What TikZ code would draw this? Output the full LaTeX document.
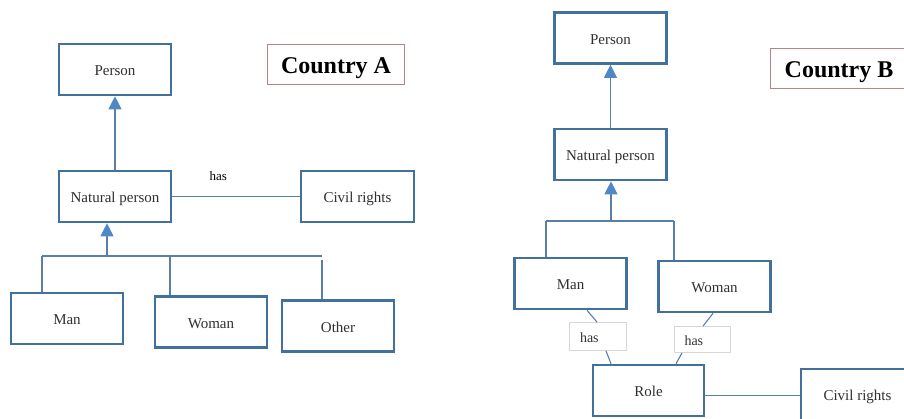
\documentclass[tikz,border=0pt]{standalone}
\usepackage{fontspec}
\setmainfont{Liberation Serif}
\usetikzlibrary{arrows.meta,calc}
\definecolor{boxblue}{HTML}{41719C}
\definecolor{linkblue}{HTML}{5B7EA6}
\definecolor{tipblue}{HTML}{4F87C7}
\definecolor{tagrey}{HTML}{D6D6D6}
\definecolor{titlerose}{HTML}{B48486}
\definecolor{textgrey}{HTML}{303030}
\begin{document}
\begin{tikzpicture}[x=1pt,y=-1pt,
  entity/.style={draw=boxblue, line width=2.6pt, fill=white, minimum width=112pt,
    minimum height=51pt, inner sep=0pt, text=textgrey, text height=12.5pt, text depth=0pt,
    font=\fontsize{15}{18}\selectfont},
  title/.style={draw=titlerose, line width=1pt, minimum width=137pt, minimum height=40pt,
    inner sep=0pt, text height=18pt, text depth=0pt, font=\fontsize{24}{28}\selectfont\bfseries},
  tag/.style={draw=tagrey, line width=0.8pt, fill=white, inner sep=0pt, text=textgrey,
    text width=36pt, align=left, text height=11pt, text depth=0pt,
    font=\fontsize{14}{16}\selectfont},
  link/.style={draw=linkblue, line width=1.1pt},
  isa/.style={link, -{Triangle[width=13pt,length=13pt,color=tipblue]}},
]
\useasboundingbox (0,0) rectangle (904,418);
\clip (0,0) rectangle (904,418);

% ---------- Country A ----------
\node[title] (ctyA) at (336,64.5) {Country A};
\node[entity] (pA) at (115,69.5) {Person};
\node[entity] (npA) at (115,196.5) {Natural person};
\node[entity, minimum width=113pt] (crA) at (357.5,196.5) {Civil rights};
\node[entity] (manA) at (67,318.5) {Man};
\node[entity] (womanA) at (211,322) {Woman};
\node[entity] (otherA) at (338,326) {Other};

\coordinate (busA) at (107,256);
\coordinate (dropManA) at (42,256);
\coordinate (dropWomanA) at (170,255);
\coordinate (dropOtherA) at (322,260);

\draw[isa] (npA.north) -- (pA.south);
\draw[link] (npA.east) -- node[pos=0.36, yshift=20pt, text=black,
  font=\fontsize{13}{15}\selectfont] (hasA) {has} (crA.west);
\draw[isa] (busA) -- (busA |- npA.south);
\draw[link] (dropManA) -- (322,256);
\draw[link] (dropManA) -- (dropManA |- manA.north);
\draw[link] (dropWomanA) -- (dropWomanA |- womanA.north);
\draw[link] (dropOtherA) -- (dropOtherA |- otherA.north);

% ---------- Country B ----------
\node[title] (ctyB) at (839,68) {Country B};
\node[entity] (pB) at (610.5,38) {Person};
\node[entity] (npB) at (610.5,154.5) {Natural person};
\node[entity] (manB) at (570.5,283.5) {Man};
\node[entity] (womanB) at (714.5,286.5) {Woman};
\node[entity, minimum width=111pt] (roleB) at (648.5,390.5) {Role};
\node[entity, minimum width=113pt] (crB) at (857.5,394.5) {Civil rights};
\node[tag, minimum width=57pt, minimum height=28pt] (hasB1) at (598,336.5) {has};
\node[tag, minimum width=56pt, minimum height=26pt] (hasB2) at (702.5,339.5) {has};

\coordinate (busB) at (611,221);
\coordinate (dropManB) at (546,221);
\coordinate (dropWomanB) at (674,221);

\draw[isa] (npB.north) -- (pB.south);
\draw[isa] (busB) -- (busB |- npB.south);
\draw[link] (dropManB) -- (dropWomanB);
\draw[link] (dropManB) -- (dropManB |- manB.north);
\draw[link] (dropWomanB) -- (dropWomanB |- womanB.north);

\draw[link] ([xshift=16.5pt]manB.south) -- ([xshift=-1pt]hasB1.north);
\draw[link] ([xshift=8pt]hasB1.south) -- ([xshift=-37.5pt]roleB.north);
\draw[link] ([xshift=-1.5pt]womanB.south) -- ([xshift=0.5pt]hasB2.north);
\draw[link] ([xshift=-20.5pt]hasB2.south) -- ([xshift=27.5pt]roleB.north);
\draw[link] ([yshift=-5pt]roleB.east) -- ([yshift=-5pt]roleB.east -| crB.west);
\end{tikzpicture}
\end{document}
